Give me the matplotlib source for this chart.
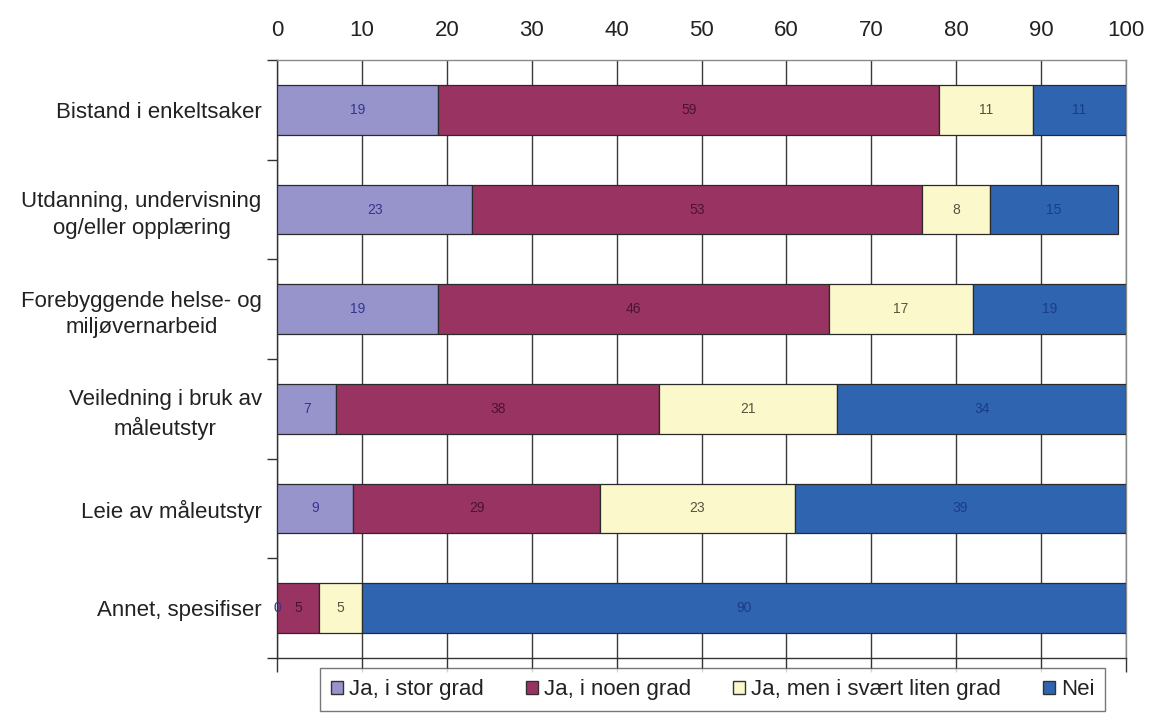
import matplotlib
matplotlib.use("Agg")
import matplotlib.pyplot as plt
from matplotlib.patches import Patch
from matplotlib.ticker import FixedLocator

plt.rcParams['font.family'] = ['Liberation Sans', 'DejaVu Sans']

categories = [
    "Bistand i enkeltsaker",
    "Utdanning, undervisning\nog/eller opplæring",
    "Forebyggende helse- og\nmiljøvernarbeid",
    "Veiledning i bruk av\nmåleutstyr",
    "Leie av måleutstyr",
    "Annet, spesifiser",
]
series_names = ["Ja, i stor grad", "Ja, i noen grad", "Ja, men i svært liten grad", "Nei"]
stor_grad = [19, 23, 19, 7, 9, 0]
noen_grad = [59, 53, 46, 38, 29, 5]
liten_grad = [11, 8, 17, 21, 23, 5]
nei = [11, 15, 19, 34, 39, 90]
x_ticks = [0, 10, 20, 30, 40, 50, 60, 70, 80, 90, 100]

series = [stor_grad, noen_grad, liten_grad, nei]
fills = ["#9794CC", "#993362", "#FBF8CB", "#2F64B1"]
text_colors = ["#35358F", "#4A1432", "#55553F", "#1C3C86"]

fig = plt.figure(figsize=(11.49, 7.16), dpi=100)
ax = fig.add_axes([277 / 1149, 1 - 658 / 716, (1126 - 277) / 1149, (658 - 60) / 716])

ypos = list(range(len(categories)))
left = [0.0] * len(categories)
for vals, fc, tc in zip(series, fills, text_colors):
    bars = ax.barh(ypos, vals, left=left, height=0.5, color=fc,
                   edgecolor="#2a2a2a", linewidth=0.9, zorder=3)
    for b, v in zip(bars, vals):
        x0 = b.get_x()
        x1 = min(x0 + b.get_width(), 100)
        ax.text((x0 + x1) / 2, b.get_y() + b.get_height() / 2, f"{v}",
                ha="center", va="center", fontsize=10, color=tc, zorder=4)
    left = [l + v for l, v in zip(left, vals)]

ax.set_xlim(0, 100)
ax.set_ylim(len(categories) - 0.5, -0.5)

ax.xaxis.set_ticks_position("bottom")
ax.set_xticks(x_ticks)
ax.tick_params(axis="x", which="major", direction="out", length=10, width=1,
               color="#333333", labelbottom=False, labeltop=True,
               labelsize=16, labelcolor="#222222", pad=4)
ax.xaxis.grid(True, color="#3a3a3a", linewidth=1.0, zorder=1)

ax.set_yticks(ypos)
ax.set_yticklabels(categories, ha="right", multialignment="center", linespacing=1.35)
ax.tick_params(axis="y", which="major", length=0, labelsize=16,
               labelcolor="#222222", pad=11)
ax.yaxis.set_minor_locator(FixedLocator([i - 0.5 for i in range(len(categories) + 1)]))
ax.tick_params(axis="y", which="minor", direction="out", length=7, width=1, color="#333333")

ax.spines["left"].set_color("#333333")
ax.spines["bottom"].set_color("#333333")
ax.spines["top"].set_color("#8a8a8a")
ax.spines["right"].set_color("#8a8a8a")
for s in ax.spines.values():
    s.set_linewidth(1.0)

handles = [Patch(facecolor=fc, edgecolor="#333333", linewidth=1.0) for fc in fills]
leg = fig.legend(handles, series_names, loc="upper left",
                 bbox_to_anchor=(320 / 1149, 1 - 668 / 716), ncol=4,
                 fontsize=16, frameon=True, fancybox=False,
                 handlelength=0.55, handleheight=0.55, handletextpad=0.25,
                 columnspacing=1.9, borderpad=0.5, borderaxespad=0)
leg.get_frame().set_edgecolor("#555555")
leg.get_frame().set_linewidth(1.0)
for t in leg.get_texts():
    t.set_color("#222222")

fig.savefig("out.png", dpi=100)
